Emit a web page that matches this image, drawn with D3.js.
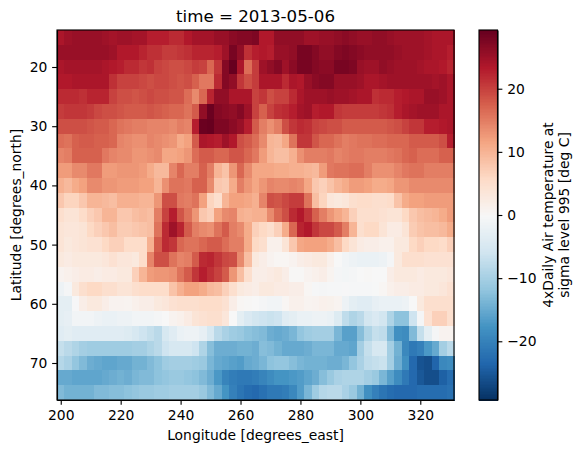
<!DOCTYPE html>
<html><head><meta charset="utf-8">
<script src="https://cdn.jsdelivr.net/npm/d3@7"></script>
<style>html,body{margin:0;padding:0;background:#fff}svg{display:block}text{font-family:"DejaVu Sans";fill:#000}</style>
</head><body><svg id="c" width="582" height="453"></svg>
<script>
const lons=[200,202.5,205,207.5,210,212.5,215,217.5,220,222.5,225,227.5,230,232.5,235,237.5,240,242.5,245,247.5,250,252.5,255,257.5,260,262.5,265,267.5,270,272.5,275,277.5,280,282.5,285,287.5,290,292.5,295,297.5,300,302.5,305,307.5,310,312.5,315,317.5,320,322.5,325,327.5,330];
const lats=[15,17.5,20,22.5,25,27.5,30,32.5,35,37.5,40,42.5,45,47.5,50,52.5,55,57.5,60,62.5,65,67.5,70,72.5,75];
const xTicks=[200,220,240,260,280,300,320];
const yTicks=[20,30,40,50,60,70];
const cbTicks=[-20,-10,0,10,20];
const vLimit=29.3;
const rdbuStops=["#053061","#2166ac","#4393c3","#92c5de","#d1e5f0","#f7f7f7","#fddbc7","#f4a582","#d6604d","#b2182b","#67001f"];
const titleText="time = 2013-05-06";
const xLabel="Longitude [degrees_east]";
const yLabel="Latitude [degrees_north]";
const cbLabel=["4xDaily Air temperature at","sigma level 995 [deg C]"];
const airTemp=[
[24,25,25.5,25.5,25.5,25.5,25,24.5,25,25,24.5,24.5,23,23,23,22,22,23.5,24.5,24.5,24.5,25.5,25.5,26.5,27,27,27.5,23.5, 23.5,26,26,26,26,25,25,25.5,25.5,26,26.5,26,25.5,25.5,26,26,25.5,25,25,25,25,24.5,24,24,24],
[25.5,25.5,25.5,25.5,25.5,25.5,25.5,25,23.5,23.5,23.5,22.5,21.5,21.5,20.5,20.5,21,21.5,22.5,22.5,22.5,23,25,28,26,21.5,23,23.5, 23,25.5,25.5,26,28,28,27,26,26,27,27.5,27,26.5,26,26,26,26,25.5,25,25,25,24.5,24,24,23],
[24,24.5,24.5,24.5,24.5,24.5,24,23.5,23,22,22,21,21.5,20,19.5,19,19,19.5,20.5,20,17,21,27,29.3,24,16.5,20.5,25, 26,27,25,26.5,28,28,27,26.5,26.5,28,28,27.5,25.5,25,25,26,25.5,25,25,25,24.5,24,24,23.5,22.5],
[23.5,23.5,24,24,24,24,24,21.5,20,20,20,19.5,19,19.5,19.5,19,18.5,19,17.5,15.5,15.5,22,27,26,21,19,20.5,24, 24,24,22,24,23.5,25.5,26.5,27,27,25.5,25.5,25.5,25,24,24,24.5,25,25,25,25,25,25,24.5,25,24],
[22,22,22,21.5,22.5,22.5,22.5,20,19,19,18.5,19,19.5,19,19,18.5,18.5,16.5,14,17,22.5,26,26,24,24,24,20,21, 19,20,20,22,24,25,25,25,25.5,25,25,24.5,24,24,21.5,22,22,23,23.5,24,24,25.5,25.5,25,24],
[20.5,21,21,21,20.5,19.5,19,19,18.5,18,18,18,18.5,18,17.5,17,17,16,18,26,29,27,26.5,26,27,25,20,17.5, 20,21.5,22,23,24.5,25,23,23.5,23.5,21,20.5,20.5,20.5,20.5,20.5,21,21.5,23,24,24.5,25,25,25,24,24],
[19,19,19,19,18.5,18,18,17,16,15.5,15,15,14.5,14.5,14.5,14,15,14.5,23,29,29.3,27.5,27.5,26.5,25.5,23,18,15, 13.5,15,19,21,22,21.5,20,19.5,19,19,18,18,18,18,18,18,18.5,19,20,21,21,23,23,23.5,24],
[16.5,16,17.5,18,18,17.5,17.5,17,14.5,14,13.5,13.5,14.5,14,13.5,13,11,12,18,24,23.5,23,25,23.5,19,18,16.5,14, 10,9.5,11.5,16,21,21,18.5,17,17,16,15,15.5,16,16,16.5,16.5,17,17,17,18,18,18,18,19,23],
[14.5,15,17.5,17.5,17.5,17.5,15.5,14.5,14,14,13,13,13.5,14,11.5,11.5,12,13,16.5,18,18,17,17,18.5,18.5,17,15.5,12.5, 10,9,9,10.5,13.5,15,15,15,15.5,14.5,15,15.5,15.5,15,15,15,15.5,16,17,17.5,16.5,16.5,16.5,17.5,17.5],
[12.5,12.5,14,14,15.5,15.5,12.5,12.5,13,13,13,12.5,11,9.5,9.5,14.5,17,15,15,17.5,15,10,8.5,13,17,14,11.5,11.5, 11.5,11,11,10.5,10.5,10,9.5,12.5,15.5,16,16,16.5,16.5,15,13.5,13.5,13.5,14.5,15.5,16,16,15,15,15,15],
[10.5,9.5,11,12,14,14,13,13,12.5,12.5,12.5,12,12,10,13.5,16,16,15.5,17.5,17.5,14,8,7.5,11,15,13,11.5,13, 14.5,14,14,14.5,14,11.5,8,7,8.5,10,11,12.5,12.5,12,11,11,11.5,13,13,14,14,14,14,14,14],
[8,6.5,6.5,8,10,10,9.5,9,10.5,10.5,10.5,10,10,13,19,19,15.5,15,16,12,6.5,5,10,12,12,11.5,10.5,14.5, 19,18.5,19.5,20.5,20.5,16,9,6.5,3.5,3,3.5,5,5.5,5.5,5,5,5.5,8.5,11,12,12,12.5,12.5,12.5,12.5],
[5,4,4,5.5,7,8,10,10,8,8,9,9.5,9,15,20,23,18.5,16,13,8,7,12,14,14.5,10.5,10,10.5,10.5, 14,17,19,22,23.5,21,17.5,15,13,11.5,10,7,5,5,5,4.5,4,4,6,8,9,9.5,10,11,12.5],
[4,3.5,3.5,4,6,7,8,9,7.5,7.5,8,8.5,9,16,22,25,22.5,18,15,14,13.5,16,18,15,14,11,7,6, 5,7,11,17,22.5,23.5,21,19.5,19.5,18,15,10,5,6,6,4,2.5,2.5,4,7.5,8.5,9,9,9.5,11],
[4,3,3.5,4,4.5,4.5,6,7,7,5.5,5.5,5.5,10.5,18,22,21,17,16,16,17,18,18,16.5,15,15,11,6,5, 1.5,1.5,4,8,11.5,12,12,12,11,9,6,4,2.5,2,2,1.5,1.5,3,3,6,7,6,6,5.5,7],
[3,2.5,3,3,3,3,3.5,4.5,3.5,3.5,3,5.5,14.5,19,19,16,14.5,15,18,22,22.5,21,19.5,19,14,9,3,2, 1,0.5,0.5,1,2,2.5,3,3,1.5,0,-1,-1.5,-2,-2,-2,-1.5,-0.5,3,5,5,5,4.5,4.5,4.5,4.5],
[1,1.5,2,2.5,2.5,2,2.5,2.5,3,3,7,10,12.5,13,13,13.5,16,18,21,23,21.5,20,18,13,9,5,2,2, 2.5,3,2,0.3,0.3,1,1.5,2,0.8,-0.5,-0.8,-0.5,0,0.2,0,0,2,3,3,3,2.5,3,3,3,3.5],
[-1.5,-0.5,3,5,6,6,5,5,4,4,5,5.5,5.5,5.5,5.5,8.5,10.5,12,12,11,9.5,9,7,5,3,2.5,2,3, 3,2.5,2.5,2,2,0.5,-0.3,-0.5,-0.3,-0.3,-0.2,-0.3,-0.3,-0.3,-0.1,0.5,1.5,2,2,2.5,2.5,3,3,3.5,4.5],
[-3,-3,-0.2,2,3,3,2,1,1,0.8,1.5,2,2,3,3.5,4.5,5,5,5,5.5,5.5,5.5,4.5,2,0.5,0.2,0,-0.5, -1,-1,0.5,1.5,1.5,0.8,1,1.5,1.3,0.8,-1.5,-3,-3.5,-3.5,-2.5,-2,-2,-2,-1.5,0,3,5,5,5,5],
[-3,-2.5,-1,-1,-1,-1.5,-2,-2,-1.5,-1.5,-1,-1,-1,-0.5,0,1,1.5,2.5,4,4.5,5,5,3.5,0,-3,-4.5,-5.5,-6, -6.5,-6,-3.5,-3,-2,-2,-1.5,-1.5,-2,-4,-7.5,-9,-8,-5.5,-4.5,-5.5,-9,-12,-12,-6,-0.5,4.5,7,7,5],
[-3.5,-3,-3.5,-3.5,-3.5,-3.5,-3.5,-3.5,-3.5,-4,-5,-6,-7,-8,-5,-3.5,-2,-1.5,-1.5,-2.5,-5,-8,-9.5,-10.5,-11,-12,-12.5,-13, -14.5,-15,-14.5,-13.5,-11.5,-10.5,-10,-10,-10,-13.5,-16,-16,-12.5,-9,-7,-7.5,-13,-18,-18.5,-13,-7,-3,-0.5,1,1],
[-7,-8,-9,-10,-10.5,-10.5,-10.5,-10.5,-10.5,-10.5,-10,-10,-9,-8,-6,-5,-5,-5,-6,-9,-12.5,-14.5,-14.5,-14.5,-14,-14,-14.5,-12.5, -13,-14,-15,-15,-15,-14.5,-13.5,-13.5,-13.5,-15,-15,-15.5,-10,-7,-5,-5,-10,-14,-19,-21,-20,-17,-15,-10,-8],
[-8.5,-9.5,-11.5,-13,-14.5,-15,-15.5,-15.5,-15,-15,-14,-14,-13,-12,-10.5,-10,-10,-10,-10.5,-11,-13.5,-15,-15.5,-16,-16.5,-15,-14.5,-13.5, -12,-11.5,-11.5,-12.5,-13.5,-14,-14,-14,-14.5,-14.5,-13.5,-11.5,-9.5,-7.5,-7,-6.5,-10,-14.5,-18,-23,-25.5,-26,-23.5,-19,-18.5],
[-15,-15,-15.5,-15.5,-15.5,-15.5,-15,-14.5,-14,-14.5,-13.5,-13,-13,-12,-11.5,-11,-11,-11.5,-12,-13,-14.5,-17,-19.5,-20.5,-21,-21,-20.5,-19.5, -18.5,-17.5,-17.5,-17,-16.5,-15.5,-14.5,-12.5,-11,-9.5,-9,-9,-9,-10,-11,-13.5,-16,-18.5,-21,-23,-25,-26,-26,-24,-22.5],
[-13,-14,-14,-14,-14,-13,-13,-12.5,-12.5,-12,-11.5,-11,-11,-10.5,-10.5,-10,-10,-10,-10,-11,-13,-15,-17.5,-20,-21.5,-22.5,-23,-22, -21,-21,-20.5,-19,-16.5,-13.5,-10.5,-8.5,-8,-8,-9.5,-11,-14,-18,-20,-21.5,-22.5,-23,-23,-23,-22.5,-22.5,-22.5,-22.5,-22]
];

const svg=d3.select("#c");
const L=57,R=454,T=30,B=400,CL=479,CR=497.5;
const x=d3.scaleLinear().domain([198.75,331.25]).range([L,R]);
const y=d3.scaleLinear().domain([13.75,76.25]).range([T,B]);
const color=d3.scaleLinear().domain(rdbuStops.map((_,i)=>-vLimit+i*2*vLimit/10)).range(rdbuStops).interpolate(d3.interpolateRgb);
const cells=lats.flatMap((lat,r)=>lons.map((lon,c)=>({lat,lon,v:airTemp[r][c]})));
svg.append("g").attr("shape-rendering","crispEdges").selectAll("rect").data(cells).join("rect")
 .attr("x",d=>x(d.lon-1.25)).attr("y",d=>y(d.lat-1.25))
 .attr("width",d=>x(d.lon+1.25)-x(d.lon-1.25)+0.5).attr("height",d=>y(d.lat+1.25)-y(d.lat-1.25)+0.5)
 .attr("fill",d=>color(d.v));

const fs=13.89;
function style(g){g.select(".domain").attr("stroke","#000").attr("stroke-width",1.11);
 g.selectAll(".tick line").attr("stroke","#000").attr("stroke-width",1.11);
 g.selectAll(".tick text").attr("font-family","DejaVu Sans").attr("font-size",fs).attr("fill","#000");}
const fmt=d=>String(d).replace("-","\u2212");
const gx=svg.append("g").attr("transform",`translate(0,${B})`).call(d3.axisBottom(x).tickValues(xTicks).tickFormat(fmt).tickSize(4.86).tickPadding(4.86).tickSizeOuter(0));
style(gx);
const gy=svg.append("g").attr("transform",`translate(${L},0)`).call(d3.axisLeft(y).tickValues(yTicks).tickFormat(fmt).tickSize(4.86).tickPadding(4.86).tickSizeOuter(0));
style(gy);
svg.append("rect").attr("x",L).attr("y",T).attr("width",R-L).attr("height",B-T).attr("fill","none").attr("stroke","#000").attr("stroke-width",1.11);

// colour bar
const cb=d3.scaleLinear().domain([-vLimit,vLimit]).range([B,T]);
const levels=d3.range(256).map(i=>-vLimit+(i+0.5)*2*vLimit/256);
const step=2*vLimit/256;
svg.append("g").attr("shape-rendering","crispEdges").selectAll("rect").data(levels).join("rect")
 .attr("x",CL).attr("width",CR-CL)
 .attr("y",d=>cb(d+step/2)).attr("height",d=>cb(d-step/2)-cb(d+step/2)+1)
 .attr("fill",d=>color(d));
const gc=svg.append("g").attr("transform",`translate(${CR},0)`).call(d3.axisRight(cb).tickValues(cbTicks).tickFormat(fmt).tickSize(4.86).tickPadding(4.86).tickSizeOuter(0));
style(gc);
svg.append("rect").attr("x",CL).attr("y",T).attr("width",CR-CL).attr("height",B-T).attr("fill","none").attr("stroke","#000").attr("stroke-width",1.11);

svg.append("text").attr("x",(L+R)/2).attr("y",22).attr("text-anchor","middle").attr("font-size",16.67).text(titleText);
svg.append("text").attr("x",(L+R)/2).attr("y",440).attr("text-anchor","middle").attr("font-size",fs).text(xLabel);
svg.append("text").attr("transform",`translate(21,${(T+B)/2}) rotate(-90)`).attr("text-anchor","middle").attr("font-size",fs).text(yLabel);
cbLabel.forEach((t,i)=>svg.append("text").attr("transform",`translate(${553+i*16},${(T+B)/2}) rotate(-90)`).attr("text-anchor","middle").attr("font-size",fs).text(t));
</script></body></html>
